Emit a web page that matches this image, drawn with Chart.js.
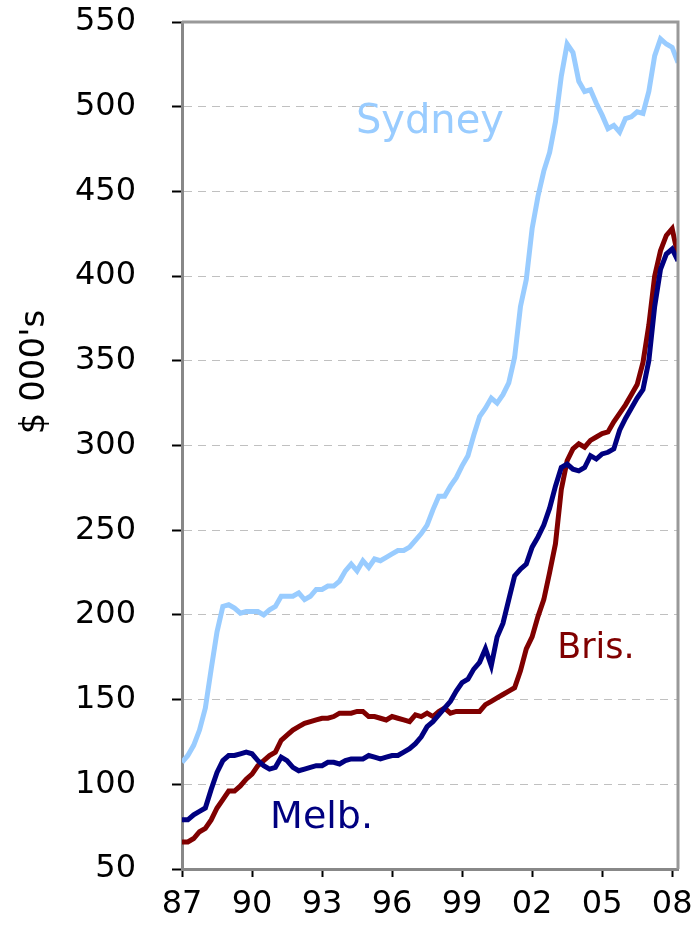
<!DOCTYPE html>
<html>
<head>
<meta charset="utf-8">
<script src="https://cdn.jsdelivr.net/npm/chart.js@4/dist/chart.umd.min.js"></script>
<style>
  html, body { margin: 0; padding: 0; background: #fff; }
  #wrap { width: 698px; height: 936px; }
</style>
</head>
<body>
<div id="wrap"><canvas id="chart" width="698" height="936"></canvas></div>
<script>
// ── median house prices, quarterly 1987 Q1 – 2008 Q2 ($ 000's) ──

const yearLabels = ['87', '90', '93', '96', '99', '02', '05', '08'];
const quarters = Array.from({ length: 86 }, (_, i) => i);   // 0 = 1987 Q1

const sydney = [
  113,117,123,132,145,168,190,205,206,204,
  201,202,202,202,200,203,205,211,211,211,
  213,209,211,215,215,217,217,220,226,230,
  226,232,228,233,232,234,236,238,238,240,
  244,248,253,262,270,270,276,281,288,294,
  306,317,322,328,325,330,337,352,382,398,
  428,447,462,473,491,518,537,532,515,509,
  510,502,495,487,489,485,493,494,497,496,
  509,530,540,537,535,526
];

const melb = [
  79,79,82,84,86,97,107,114,117,117,
  118,119,118,114,111,109,110,116,114,110,
  108,109,110,111,111,113,113,112,114,115,
  115,115,117,116,115,116,117,117,119,121,
  124,128,134,137,141,145,149,155,160,162,
  168,172,180,170,187,195,209,223,227,230,
  240,246,253,263,276,287,289,286,285,287,
  294,292,295,296,298,309,316,322,328,333,
  350,382,404,413,416,409
];

const bris = [
  66,66,68,72,74,79,86,91,96,96,
  99,103,106,111,114,117,119,126,129,132,
  134,136,137,138,139,139,140,142,142,142,
  143,143,140,140,139,138,140,139,138,137,
  141,140,142,140,143,145,142,143,143,143,
  143,143,147,149,151,153,155,157,167,180,
  187,199,209,225,242,274,291,298,301,299,
  303,305,307,308,314,319,324,330,336,349,
  371,400,415,424,428,412
];

const FONT = "'DejaVu Sans', Verdana, sans-serif";

// city labels sit in data space: [text, quarter index, value, colour, size]
const cityLabels = [
  ['Sydney', 29.8, 484.5, '#99ccff', 40],
  ['Melb.',  15.1,  74.2, '#000080', 38],
  ['Bris.',  64.3, 174.6, '#800000', 35],
];

const series = (data, color) => ({
  data: data.map((v, i) => ({ x: quarters[i], y: v })),
  borderColor: color, borderWidth: 5, pointRadius: 0, tension: 0, fill: false,
});

// frame (top + right), y title and the city names
const decor = {
  id: 'decor',
  afterDatasetsDraw(chart) {
    const { ctx, chartArea: a, scales: { x, y } } = chart;
    ctx.save();
    ctx.strokeStyle = '#999'; ctx.lineWidth = 3;
    ctx.beginPath();
    ctx.moveTo(a.left, a.top); ctx.lineTo(a.right, a.top); ctx.lineTo(a.right, a.bottom);
    ctx.stroke();

    ctx.textAlign = 'left'; ctx.textBaseline = 'alphabetic';
    cityLabels.forEach(([t, qi, v, c, sz]) => {
      ctx.fillStyle = c; ctx.font = `400 ${sz}px ${FONT}`;
      ctx.fillText(t, x.getPixelForValue(qi), y.getPixelForValue(v));
    });

    ctx.translate(35, 372); ctx.rotate(-Math.PI / 2);
    ctx.fillStyle = '#000'; ctx.font = `400 34px ${FONT}`;
    ctx.textAlign = 'center'; ctx.textBaseline = 'middle';
    ctx.fillText("$ 000's", 0, 0);
    ctx.restore();
  }
};

new Chart(document.getElementById('chart'), {
  type: 'line',
  data: { datasets: [series(sydney, '#99ccff'), series(melb, '#000080'), series(bris, '#800000')] },
  options: {
    responsive: false, animation: false,
    layout: { padding: { top: 22, right: 20, left: 0, bottom: 0 } },
    plugins: { legend: { display: false }, tooltip: { enabled: false } },
    scales: {
      x: {
        type: 'linear', min: 0, max: 85,
        afterFit: s => { s.height = 67; s.paddingLeft = 0; s.paddingRight = 0; },
        afterBuildTicks: s => { s.ticks = yearLabels.map((_, k) => ({ value: k * 12 })); },
        grid: { drawOnChartArea: false, tickLength: 8, tickColor: '#000', tickWidth: 2 },
        border: { color: '#888', width: 3 },
        ticks: { color: '#000', font: { family: FONT, size: 32 }, padding: 8, maxRotation: 0,
                 callback: v => yearLabels[Math.round(v / 12)] },
      },
      y: {
        min: 50, max: 550,
        afterFit: s => { s.width = 182; s.paddingTop = 0; s.paddingBottom = 0; },
        grid: { color: '#c0c0c0', lineWidth: 1, tickLength: 10, tickColor: '#000', tickWidth: 2, tickBorderDash: [] },
        border: { color: '#888', width: 3, dash: [8, 6] },
        ticks: { stepSize: 50, color: '#000', font: { family: FONT, size: 32 }, padding: 36 },
      },
    },
  },
  plugins: [decor],
});
</script>
</body>
</html>
